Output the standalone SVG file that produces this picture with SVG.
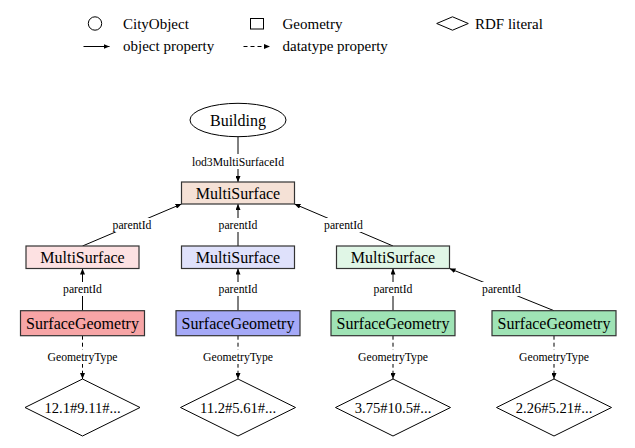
<svg xmlns="http://www.w3.org/2000/svg" width="635" height="448" viewBox="0 0 635 448">
<defs>
<marker id="arr" markerUnits="userSpaceOnUse" markerWidth="6" markerHeight="5" refX="6" refY="2.5" orient="auto">
<path d="M0,0 L6,2.5 L0,5 z" fill="#000"/>
</marker>
<style>
text{font-family:"Liberation Serif","Times New Roman",serif;fill:#000}
.node{font-size:16px;text-anchor:middle}
.lit{font-size:14.6px;text-anchor:middle}
.lbl{font-size:11.7px;text-anchor:middle}
.leg{font-size:15px}
.box{stroke:#333;stroke-width:1.2}
.edge{stroke:#000;stroke-width:1;fill:none;marker-end:url(#arr)}
.dash{stroke-dasharray:4,3}
.lblbg{fill:#fff}
.shape{fill:#fff;stroke:#000;stroke-width:1}
</style>
</defs>
<rect width="635" height="448" fill="#fff"/>
<g id="legend">
<circle class="shape" cx="95" cy="23.5" r="6.7"/>
<text class="leg" x="123" y="28.5">CityObject</text>
<rect class="shape" x="250.5" y="18.5" width="13" height="10.5"/>
<text class="leg" x="282.5" y="28.5">Geometry</text>
<path class="shape" d="M436.7,23.5 L452.5,16.8 L468.3,23.5 L452.5,30.2 z"/>
<text class="leg" x="475" y="28.5">RDF literal</text>
<line class="edge" x1="83.5" y1="46.5" x2="109.5" y2="46.5"/>
<text class="leg" x="123" y="51">object property</text>
<line class="edge dash" x1="243.5" y1="46.5" x2="270" y2="46.5"/>
<text class="leg" x="282.5" y="51">datatype property</text>
</g>
<g id="connectors">
<line class="edge" x1="238" y1="136.7" x2="238" y2="182"/>
<line class="edge" x1="82.5" y1="246" x2="181.5" y2="204"/>
<line class="edge" x1="238" y1="246" x2="238" y2="204"/>
<line class="edge" x1="393" y1="246" x2="294.5" y2="204"/>
<line class="edge" x1="82.5" y1="310.7" x2="82.5" y2="268.5"/>
<line class="edge" x1="238" y1="310.7" x2="238" y2="268.5"/>
<line class="edge" x1="393" y1="310.7" x2="393" y2="268.5"/>
<line class="edge" x1="554" y1="310.7" x2="449.5" y2="268.5"/>
<line class="edge dash" x1="82.5" y1="335.7" x2="82.5" y2="379"/>
<line class="edge dash" x1="238" y1="335.7" x2="238" y2="379"/>
<line class="edge dash" x1="393" y1="335.7" x2="393" y2="379"/>
<line class="edge dash" x1="554" y1="335.7" x2="554" y2="379"/>
<rect class="lblbg" x="190" y="154" width="96" height="15"/>
<text class="lbl" x="238" y="165.5">lod3MultiSurfaceId</text>
<rect class="lblbg" x="111" y="218" width="42" height="14"/>
<text class="lbl" x="132" y="229">parentId</text>
<rect class="lblbg" x="217" y="218" width="42" height="14"/>
<text class="lbl" x="238" y="229">parentId</text>
<rect class="lblbg" x="322.5" y="218" width="42" height="14"/>
<text class="lbl" x="343.5" y="229">parentId</text>
<rect class="lblbg" x="61.5" y="282" width="42" height="14"/>
<text class="lbl" x="82.5" y="293">parentId</text>
<rect class="lblbg" x="217" y="282" width="42" height="14"/>
<text class="lbl" x="238" y="293">parentId</text>
<rect class="lblbg" x="372" y="282" width="42" height="14"/>
<text class="lbl" x="393" y="293">parentId</text>
<rect class="lblbg" x="480.5" y="282" width="42" height="14"/>
<text class="lbl" x="501.5" y="293">parentId</text>
<rect class="lblbg" x="45" y="350" width="75" height="14"/>
<text class="lbl" x="82.5" y="361">GeometryType</text>
<rect class="lblbg" x="200.5" y="350" width="75" height="14"/>
<text class="lbl" x="238" y="361">GeometryType</text>
<rect class="lblbg" x="355.5" y="350" width="75" height="14"/>
<text class="lbl" x="393" y="361">GeometryType</text>
<rect class="lblbg" x="516.5" y="350" width="75" height="14"/>
<text class="lbl" x="554" y="361">GeometryType</text>
</g>
<g id="building">
<ellipse class="shape" cx="238" cy="120" rx="48" ry="16.7"/>
<text class="node" x="238" y="125.5">Building</text>
</g>
<g id="ms-top">
<rect class="box" x="181.5" y="182" width="113" height="22" fill="#f5e1d6"/>
<text class="node" x="238" y="198.5">MultiSurface</text>
</g>
<g id="ms-pink">
<rect class="box" x="26" y="246" width="113" height="22.5" fill="#fde1e2"/>
<text class="node" x="82.5" y="262.8">MultiSurface</text>
</g>
<g id="ms-lavender">
<rect class="box" x="181.5" y="246" width="113" height="22.5" fill="#dfe1fb"/>
<text class="node" x="238" y="262.8">MultiSurface</text>
</g>
<g id="ms-green">
<rect class="box" x="336.5" y="246" width="113" height="22.5" fill="#e0f6e6"/>
<text class="node" x="393" y="262.8">MultiSurface</text>
</g>
<g id="sg-red">
<rect class="box" x="20.5" y="310.7" width="124" height="25" fill="#f7a5a6"/>
<text class="node" x="82.5" y="328.5">SurfaceGeometry</text>
</g>
<g id="sg-blue">
<rect class="box" x="176" y="310.7" width="124" height="25" fill="#a5a9f7"/>
<text class="node" x="238" y="328.5">SurfaceGeometry</text>
</g>
<g id="sg-green1">
<rect class="box" x="331" y="310.7" width="124" height="25" fill="#9fe3b5"/>
<text class="node" x="393" y="328.5">SurfaceGeometry</text>
</g>
<g id="sg-green2">
<rect class="box" x="492" y="310.7" width="124" height="25" fill="#9fe3b5"/>
<text class="node" x="554" y="328.5">SurfaceGeometry</text>
</g>
<g id="lit1">
<path class="shape" d="M25,407.5 L82.5,379 L140,407.5 L82.5,436 z"/>
<text class="lit" x="82.5" y="412.5">12.1#9.11#...</text>
</g>
<g id="lit2">
<path class="shape" d="M180.5,407.5 L238,379 L295.5,407.5 L238,436 z"/>
<text class="lit" x="238" y="412.5">11.2#5.61#...</text>
</g>
<g id="lit3">
<path class="shape" d="M335.5,407.5 L393,379 L450.5,407.5 L393,436 z"/>
<text class="lit" x="393" y="412.5">3.75#10.5#...</text>
</g>
<g id="lit4">
<path class="shape" d="M496.5,407.5 L554,379 L611.5,407.5 L554,436 z"/>
<text class="lit" x="554" y="412.5">2.26#5.21#...</text>
</g>
</svg>
